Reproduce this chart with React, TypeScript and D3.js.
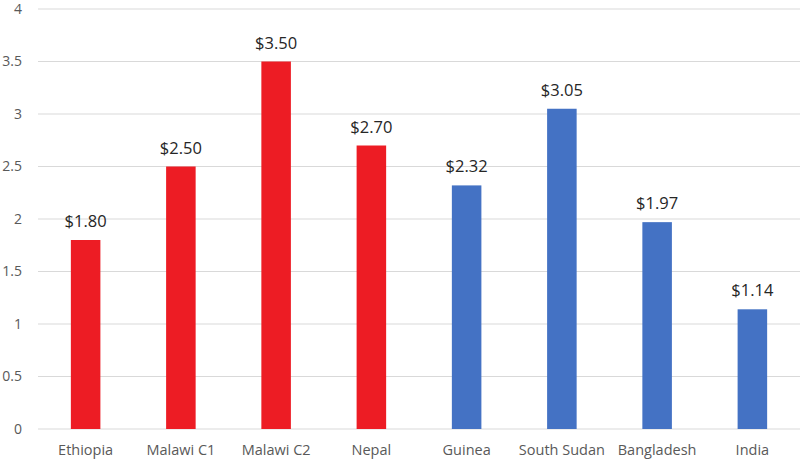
import React, { useRef, useEffect } from 'react';
import * as d3 from 'd3';

const categories = ['Ethiopia', 'Malawi C1', 'Malawi C2', 'Nepal', 'Guinea', 'South Sudan', 'Bangladesh', 'India'];
const values = [1.8, 2.5, 3.5, 2.7, 2.32, 3.05, 1.97, 1.14];
const groups = ['red', 'red', 'red', 'red', 'blue', 'blue', 'blue', 'blue'];
const yTicks = [0, 0.5, 1, 1.5, 2, 2.5, 3, 3.5, 4];

const colors: Record<string, string> = { red: '#ED1C24', blue: '#4472C4' };

const App = () => {
  const ref = useRef<SVGSVGElement>(null);

  useEffect(() => {
    if (!ref.current) return;
    const svg = d3.select(ref.current);
    svg.selectAll('*').remove();

    const margin = { top: 9, right: 0, bottom: 31, left: 38 };
    const width = 800 - margin.left - margin.right;
    const height = 460 - margin.top - margin.bottom;
    const font = '"Open Sans", "Noto Sans", sans-serif';

    const x = d3.scaleBand().domain(categories).range([0, width]).paddingInner(0.69).paddingOuter(0.345);
    const y = d3.scaleLinear().domain([0, 4]).range([height, 0]);

    const g = svg.append('g').attr('transform', `translate(${margin.left},${margin.top})`);

    // gridlines
    g.selectAll('.grid')
      .data(yTicks)
      .enter()
      .append('line')
      .attr('x1', 0)
      .attr('x2', width)
      .attr('y1', d => y(d))
      .attr('y2', d => y(d))
      .attr('stroke', '#d9d9d9')
      .attr('stroke-width', 1.2);

    // y tick labels
    g.selectAll('.ytick')
      .data(yTicks)
      .enter()
      .append('text')
      .attr('x', -16)
      .attr('y', d => y(d))
      .attr('dy', '0.35em')
      .attr('text-anchor', 'end')
      .attr('fill', '#595959')
      .attr('font-family', font)
      .attr('font-size', 14)
      .text(d => String(d));

    const data = categories.map((c, i) => ({ cat: c, value: values[i], group: groups[i] }));

    g.selectAll('.bar')
      .data(data)
      .enter()
      .append('rect')
      .attr('x', d => x(d.cat)!)
      .attr('y', d => y(d.value))
      .attr('width', x.bandwidth())
      .attr('height', d => height - y(d.value))
      .attr('fill', d => colors[d.group]);

    g.selectAll('.label')
      .data(data)
      .enter()
      .append('text')
      .attr('x', d => x(d.cat)! + x.bandwidth() / 2)
      .attr('y', d => y(d.value) - 13)
      .attr('text-anchor', 'middle')
      .attr('fill', '#262626')
      .attr('font-family', font)
      .attr('font-size', 16.5)
      .text(d => `$${d.value.toFixed(2)}`);

    // category labels
    g.selectAll('.xtick')
      .data(categories)
      .enter()
      .append('text')
      .attr('x', d => x(d)! + x.bandwidth() / 2)
      .attr('y', height + 26)
      .attr('text-anchor', 'middle')
      .attr('fill', '#595959')
      .attr('font-family', font)
      .attr('font-size', 14.5)
      .text(d => d);
  }, []);

  return (
    <svg ref={ref} width={800} height={460} style={{ position: 'absolute', left: 0, top: 0, background: '#fff' }} />
  );
};

export default App;
